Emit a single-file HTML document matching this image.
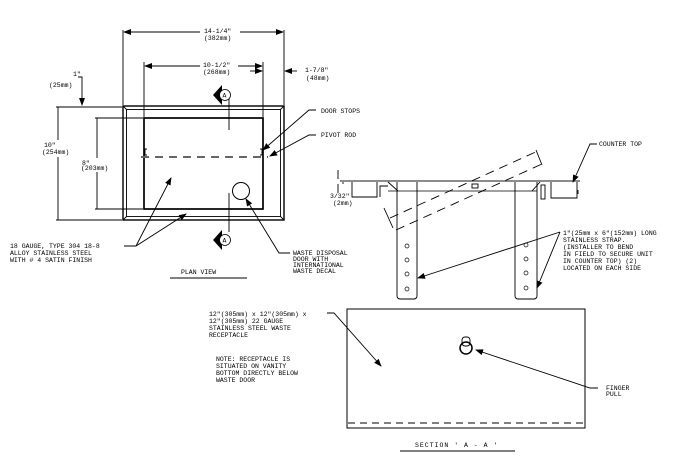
<!DOCTYPE html>
<html><head><style>
html,body{margin:0;padding:0;background:#fff}
svg{display:block}
text{font-family:"Liberation Mono",monospace;font-size:6.5px;fill:#000}
</style></head><body>
<svg width="683" height="470" viewBox="0 0 683 470" xmlns="http://www.w3.org/2000/svg">
<defs><marker id="a" markerWidth="8" markerHeight="6" refX="7" refY="3" orient="auto" markerUnits="userSpaceOnUse"><path d="M0,0 L8,3 L0,6 z" fill="#000"/></marker></defs>
<g stroke="#000" fill="none" stroke-width="0.9">
<!-- plan view -->
<rect x="123" y="106" width="161" height="114" stroke-width="1.4"/>
<rect x="126.5" y="109.5" width="154" height="107"/>
<line x1="123" y1="106" x2="126.5" y2="109.5"/><line x1="284" y1="106" x2="280.5" y2="109.5"/>
<line x1="123" y1="220" x2="126.5" y2="216.5"/><line x1="284" y1="220" x2="280.5" y2="216.5"/>
<rect x="144" y="118" width="119" height="91" stroke-width="1.7"/>
<line x1="141" y1="157" x2="268" y2="157" stroke="#666" stroke-width="2" stroke-dasharray="8,6"/>
<path d="M147,149 h-2 v6 h2 M260,149 h2 v6 h-2"/>
<circle cx="241" cy="191" r="8.5" stroke-width="1"/>
<line x1="229" y1="97" x2="229" y2="130"/><line x1="229" y1="193" x2="229" y2="232"/>
<!-- dims -->
<line x1="123" y1="30" x2="123" y2="105"/><line x1="284" y1="30" x2="284" y2="105"/>
<line x1="200" y1="32" x2="124" y2="32" marker-end="url(#a)"/><line x1="240" y1="32" x2="283" y2="32" marker-end="url(#a)"/>
<line x1="144" y1="62" x2="144" y2="117"/><line x1="263" y1="62" x2="263" y2="117"/>
<line x1="200" y1="66" x2="145" y2="66" marker-end="url(#a)"/><line x1="238" y1="66" x2="262" y2="66" marker-end="url(#a)"/>
<line x1="250" y1="71" x2="262" y2="71" marker-end="url(#a)"/><line x1="297" y1="71" x2="285" y2="71" marker-end="url(#a)"/>
<path d="M78,77 H82 V105" marker-end="url(#a)"/>
<line x1="56" y1="107" x2="122" y2="107"/><line x1="56" y1="220" x2="122" y2="220"/>
<line x1="58" y1="107" x2="58" y2="140"/><line x1="58" y1="157" x2="58" y2="220"/>
<line x1="95" y1="118" x2="143" y2="118"/><line x1="95" y1="209" x2="143" y2="209"/>
<line x1="97" y1="118" x2="97" y2="158"/><line x1="97" y1="172" x2="97" y2="209"/>
<!-- leaders -->
<path d="M316,110 H309 L263,150" marker-end="url(#a)"/>
<path d="M316,135 H309 L270,156" marker-end="url(#a)"/>
<path d="M124,246 H136 L171,178" marker-end="url(#a)"/>
<path d="M136,246 L186,214" marker-end="url(#a)"/>
<path d="M290,253 H279 L246,199" marker-end="url(#a)"/>
<line x1="170" y1="278" x2="247" y2="278"/>
<!-- side view -->
<line x1="340" y1="181" x2="580" y2="181" stroke="#666" stroke-width="1.5"/>
<path d="M352,182 V197 H377 V182 M380,197 V186 H388"/>
<path d="M551,182 V198 H577 V182"/>
<path d="M343,182 v2 M578,190 v4"/>
<line x1="388" y1="191" x2="537" y2="191" stroke="#666" stroke-width="1.3"/>
<path d="M388,182 L398,191 M540,182 L532,191"/>
<path d="M397,182 V296 a3,3 0 0 0 3,3 H414 a3,3 0 0 0 3,-3 V182"/>
<path d="M515,182 V296 a3,3 0 0 0 3,3 H534 a3,3 0 0 0 3,-3 V182"/>
<g stroke-width="0.7"><circle cx="407" cy="246" r="2"/><circle cx="407" cy="260" r="2"/><circle cx="407" cy="274" r="2"/><circle cx="407" cy="289" r="2"/>
<circle cx="526" cy="245" r="2"/><circle cx="526" cy="259" r="2"/><circle cx="526" cy="273" r="2"/><circle cx="526" cy="288" r="2"/></g>
<line x1="390" y1="218" x2="540" y2="150" stroke-dasharray="9,6"/>
<line x1="396" y1="230" x2="542" y2="164" stroke-dasharray="9,6"/>
<path d="M384,208 L393,228 M536,150 L542,165"/>
<rect x="472" y="184" width="6" height="4"/>
<rect x="541" y="185" width="4" height="14"/>
<path d="M597,144 H590 L573,182" marker-end="url(#a)"/>
<path d="M338,170 V179 M338,184 V193"/>
<path d="M560,232 L418,278" marker-end="url(#a)"/>
<path d="M560,232 L537,288" marker-end="url(#a)"/>
<!-- receptacle -->
<rect x="347" y="309" width="238" height="119" stroke-width="1"/>
<line x1="348" y1="423" x2="584" y2="423" stroke-dasharray="7,5"/>
<path d="M327,313 H334 L381,366" marker-end="url(#a)"/>
<path d="M598,388 H590 L476,350" marker-end="url(#a)"/>
<circle cx="466" cy="348" r="6" stroke-width="1.5"/>
<rect x="462" y="337" width="8" height="9" rx="3"/>
<line x1="400" y1="451" x2="515" y2="451"/>
</g>
<!-- section markers -->
<g>
<path d="M213,95 L222,85 L222,105 z" fill="#000"/><circle cx="225" cy="95" r="5.5" fill="#fff" stroke="#000" stroke-width="0.8"/><text x="222.5" y="97.5" font-size="6">A</text>
<path d="M213,240 L222,230 L222,250 z" fill="#000"/><circle cx="225" cy="240" r="5.5" fill="#fff" stroke="#000" stroke-width="0.8"/><text x="222.5" y="242.5" font-size="6">A</text>
</g>
<text x="204" y="33">14-1/4"</text><text x="204" y="40">(382mm)</text>
<text x="203" y="67">10-1/2"</text><text x="203" y="74">(268mm)</text>
<text x="305" y="72">1-7/8"</text><text x="306" y="80">(48mm)</text>
<text x="73" y="76">1"</text><text x="49" y="87">(25mm)</text>
<text x="44" y="147">10"</text><text x="42" y="154">(254mm)</text>
<text x="82" y="165">8"</text><text x="81" y="170">(203mm)</text>
<text x="321" y="113">DOOR STOPS</text>
<text x="321" y="137">PIVOT ROD</text>
<text x="10" y="248">18 GAUGE, TYPE 304 18-8</text>
<text x="10" y="255">ALLOY STAINLESS STEEL</text>
<text x="10" y="262">WITH # 4 SATIN FINISH</text>
<text x="293" y="255" font-size="5.5">WASTE DISPOSAL</text>
<text x="293" y="261" font-size="5.5">DOOR WITH</text>
<text x="293" y="267" font-size="5.5">INTERNATIONAL</text>
<text x="293" y="273" font-size="5.5">WASTE DECAL</text>
<text x="181" y="274" font-size="7.5">PLAN VIEW</text>
<text x="599" y="146">COUNTER TOP</text>
<text x="330" y="198" font-size="7">3/32"</text><text x="333" y="205">(2mm)</text>
<text x="563" y="235">1"(25mm x 6"(152mm) LONG</text>
<text x="563" y="242">STAINLESS STRAP.</text>
<text x="563" y="249">(INSTALLER TO BEND</text>
<text x="563" y="256">IN FIELD TO SECURE UNIT</text>
<text x="563" y="263">IN COUNTER TOP) (2)</text>
<text x="563" y="270">LOCATED ON EACH SIDE</text>
<text x="209" y="316">12"(305mm) x 12"(305mm) x</text>
<text x="209" y="323">12"(305mm)  22 GAUGE</text>
<text x="209" y="330">STAINLESS STEEL WASTE</text>
<text x="209" y="337">RECEPTACLE</text>
<text x="216" y="361">NOTE: RECEPTACLE IS</text>
<text x="216" y="368">SITUATED ON VANITY</text>
<text x="216" y="375">BOTTOM DIRECTLY BELOW</text>
<text x="216" y="382">WASTE DOOR</text>
<text x="606" y="390" font-size="5.5">FINGER</text><text x="606" y="396" font-size="5.5">PULL</text>
<text x="415" y="447" font-size="8" letter-spacing="1">SECTION ' A - A '</text>
</svg>
</body></html>
